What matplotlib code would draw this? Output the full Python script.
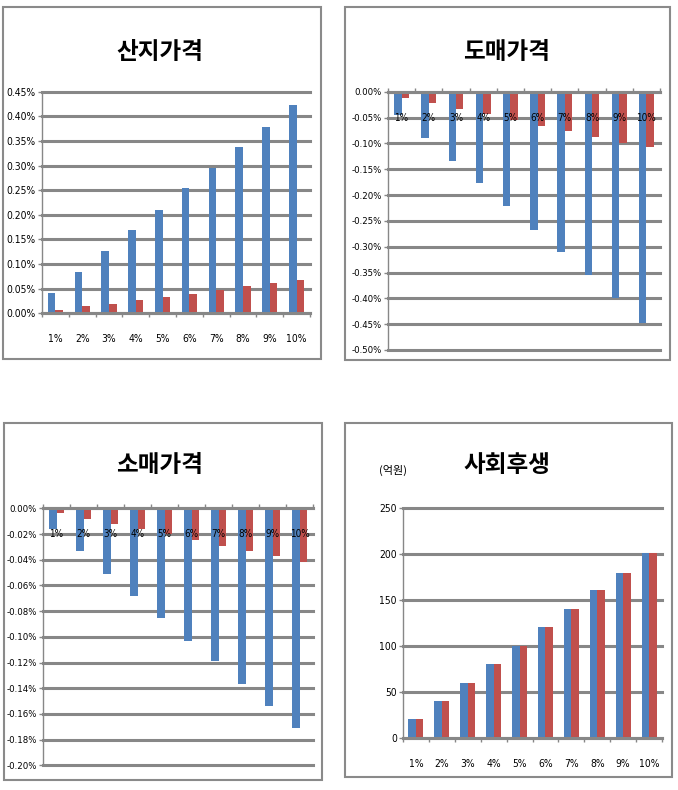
import numpy as np
import matplotlib.pyplot as plt
from matplotlib import font_manager as fm
from matplotlib.patches import Rectangle
from matplotlib.ticker import FuncFormatter

categories = ['1%', '2%', '3%', '4%', '5%', '6%', '7%', '8%', '9%', '10%']

# 산지가격 (%)
farm_blue = [0.041, 0.083, 0.127, 0.169, 0.210, 0.254, 0.295, 0.338, 0.379, 0.422]
farm_red = [0.007, 0.014, 0.019, 0.026, 0.034, 0.040, 0.047, 0.055, 0.062, 0.068]

# 도매가격 (%)
whole_blue = [-0.045, -0.089, -0.134, -0.177, -0.221, -0.268, -0.311, -0.355, -0.400, -0.447]
whole_red = [-0.012, -0.021, -0.034, -0.043, -0.055, -0.066, -0.077, -0.087, -0.100, -0.108]

# 소매가격 (%)
retail_blue = [-0.016, -0.033, -0.051, -0.068, -0.085, -0.103, -0.119, -0.137, -0.154, -0.171]
retail_red = [-0.004, -0.008, -0.012, -0.016, -0.020, -0.025, -0.029, -0.033, -0.037, -0.042]

# 사회후생 (억원)
welfare_blue = [20, 40, 60, 80, 100, 121, 140, 161, 180, 201]
welfare_red = [20, 40, 60, 80, 100, 121, 140, 161, 180, 201]

BLUE = '#4F81BD'
RED = '#C0504D'
GRID = '#878787'

# pick a narrow font for the tick labels if one is around
fonts = fm.fontManager.ttflist
if any(f.name == 'Liberation Sans Narrow' for f in fonts):
    tick_font = dict(family='Liberation Sans Narrow', scale=1.2, stretch='normal')
elif any(f.name == 'DejaVu Sans' and f.stretch == 'condensed' for f in fonts):
    tick_font = dict(family='DejaVu Sans', scale=1.05, stretch='condensed')
else:
    tick_font = dict(family='Roboto', scale=1.0, stretch='normal')
plt.rcParams['font.family'] = [tick_font['family'], 'DejaVu Sans']
plt.rcParams['font.stretch'] = tick_font['stretch']
SCALE = tick_font['scale']

W, H = 678, 790
fig = plt.figure(figsize=(W / 100, H / 100), dpi=100)


def px_axes(left, right, top, bottom):
    return fig.add_axes([left / W, 1 - bottom / H, (right - left) / W, (bottom - top) / H])


def draw_panel(ax, blue, red, ylim, yticks, fmt, negative, bw=0.28, ysize=7, xsize=7):
    x = np.arange(len(categories))
    ax.bar(x - bw / 2, blue, width=bw, color=BLUE, zorder=2)
    ax.bar(x + bw / 2, red, width=bw, color=RED, zorder=2)
    ax.set_xlim(-0.5, len(categories) - 0.5)
    ax.set_ylim(*ylim)
    ax.set_yticks(yticks)
    ax.yaxis.set_major_formatter(FuncFormatter(fmt))
    ax.yaxis.grid(True, color=GRID, linewidth=2.2)
    for gl in ax.get_ygridlines():
        gl.set_clip_on(False)
    ax.set_axisbelow(True)
    ax.xaxis.set_zorder(3)
    for s in ['top', 'right']:
        ax.spines[s].set_visible(False)
    ax.spines['left'].set_color(GRID)
    ax.spines['left'].set_linewidth(1)
    ax.spines['bottom'].set_color(GRID)
    ax.spines['bottom'].set_linewidth(2.2)
    ax.spines['bottom'].set_position(('data', 0))
    ax.set_xticks(x)
    ax.set_xticklabels(categories)
    ax.set_xticks(np.arange(len(categories) + 1) - 0.5, minor=True)
    ax.tick_params(axis='x', which='major', length=0, pad=15, labelsize=xsize * SCALE)
    ax.tick_params(axis='x', which='minor', length=3, width=1, color=GRID,
                   direction='in' if negative else 'out')
    ax.tick_params(axis='y', length=3, width=1, color=GRID, labelsize=ysize * SCALE, pad=1.5)
    ax.patch.set_alpha(0)


def pct(v, p):
    if abs(v) < 1e-9:
        v = 0.0
    return f'{v:.2f}%'


ax1 = px_axes(42, 310, 91.7, 313.3)
draw_panel(ax1, farm_blue, farm_red, (0, 0.45), np.arange(0, 0.451, 0.05), pct, False)

ax2 = px_axes(388, 660, 91.7, 350)
draw_panel(ax2, whole_blue, whole_red, (-0.5, 0), np.arange(-0.5, 0.001, 0.05), pct, True,
           bw=0.27, ysize=6.5, xsize=6.8)

ax3 = px_axes(43, 313, 508.3, 765.3)
draw_panel(ax3, retail_blue, retail_red, (-0.2, 0), np.arange(-0.2, 0.0001, 0.02), pct, True,
           ysize=6.5, xsize=6.8)

ax4 = px_axes(403, 662, 508.3, 737.7)
draw_panel(ax4, welfare_blue, welfare_red, (0, 250), np.arange(0, 251, 50),
           lambda v, p: f'{v:.0f}', False, bw=0.29)

# panel frames
for (l, r, t, b) in [(3, 321, 7, 359), (345, 670, 7, 360), (4, 322, 423, 780), (345, 672, 423, 777)]:
    fig.patches.append(Rectangle((l / W, 1 - b / H), (r - l) / W, (b - t) / H,
                                 transform=fig.transFigure, fill=False,
                                 edgecolor='#8a8a8a', linewidth=1.5))

title_font = ['Noto Sans CJK KR', 'DejaVu Sans']
for txt, cx, cy in [('산지가격', 160, 52), ('도매가격', 507, 52),
                    ('소매가격', 160, 465), ('사회후생', 507, 465)]:
    fig.text(cx / W, 1 - cy / H, txt, ha='center', va='center', fontsize=17,
             fontweight='bold', family=title_font, fontstretch='normal')

fig.text(393 / W, 1 - 470 / H, '(억원)', ha='center', va='center', fontsize=8,
         family=title_font, fontstretch='normal')

fig.savefig('out.png', dpi=100)
